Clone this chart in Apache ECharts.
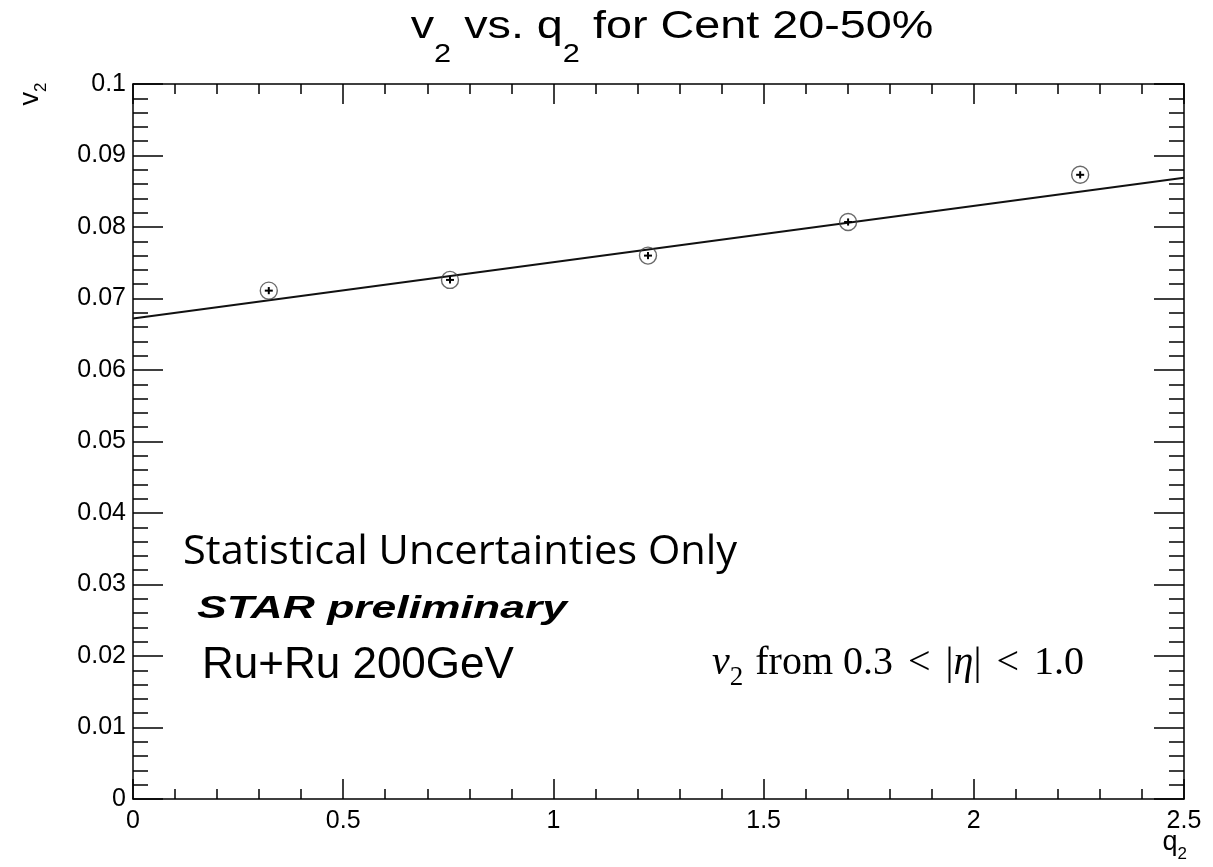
<!DOCTYPE html>
<html><head><meta charset="utf-8">
<script src="https://cdn.jsdelivr.net/npm/echarts@6/dist/echarts.min.js"></script>
<style>html,body{margin:0;padding:0;background:#fff}#c{width:1213px;height:867px}</style>
</head><body><div id="c"></div>
<script>
// Data
const q2 = [0.323, 0.754, 1.225, 1.701, 2.253];
const v2 = [0.0711, 0.0726, 0.0760, 0.0807, 0.0873];
const v2Err = [0.0005, 0.0005, 0.0005, 0.0005, 0.0005];
const fitQ2 = [0, 2.5];
const fitV2 = [0.0672, 0.0869];

const HELV = '"Liberation Sans", Arial, Helvetica, sans-serif';
const SERIF = '"Liberation Serif", "DejaVu Serif", serif';
const chart = echarts.init(document.getElementById('c'), null, {renderer: 'canvas'});

const pts = q2.map((x, i) => [x, v2[i], v2Err[i]]);
const fit = fitQ2.map((x, i) => [x, fitV2[i]]);

function axisCommon(major, minor) {
  return {
    axisLine: {show: true, onZero: false, lineStyle: {color: '#000', width: 1.5}},
    axisTick: {show: true, inside: true, length: major, lineStyle: {color: '#000', width: 1.5}},
    minorTick: {show: true, splitNumber: 5, length: minor, lineStyle: {color: '#000', width: 1.5}},
    splitLine: {show: false}
  };
}

const option = {
  backgroundColor: '#fff',
  animation: false,
  grid: {left: 133, top: 84, right: 29, bottom: 68, containLabel: false},
  xAxis: [
    Object.assign({type: 'value', min: 0, max: 2.5, interval: 0.5, position: 'bottom',
      axisLabel: {color: '#000', fontFamily: HELV, fontSize: 25, margin: 10,
        formatter: v => String(+v.toFixed(1))}}, axisCommon(20, 10)),
    Object.assign({type: 'value', min: 0, max: 2.5, interval: 0.5, position: 'top',
      axisLabel: {show: false}}, axisCommon(20, 10))
  ],
  yAxis: [
    Object.assign({type: 'value', min: 0, max: 0.1, interval: 0.01, position: 'left',
      axisLabel: {color: '#000', fontFamily: HELV, fontSize: 25, margin: 7,
        formatter: v => String(+v.toFixed(2))}}, axisCommon(30, 15)),
    Object.assign({type: 'value', min: 0, max: 0.1, interval: 0.01, position: 'right',
      axisLabel: {show: false}}, axisCommon(30, 15))
  ],
  series: [
    {
      type: 'line', data: fit, xAxisIndex: 0, yAxisIndex: 0,
      symbol: 'none', lineStyle: {color: '#111', width: 2}, z: 2
    },
    {
      type: 'scatter', data: pts, xAxisIndex: 0, yAxisIndex: 0,
      symbol: 'circle', symbolSize: 17,
      itemStyle: {color: 'rgba(255,255,255,0)', borderColor: '#444', borderWidth: 1.4}, z: 3
    },
    {
      type: 'custom', data: pts, xAxisIndex: 0, yAxisIndex: 0, z: 4,
      renderItem: function (params, api) {
        const x = api.value(0), y = api.value(1), e = api.value(2);
        const c = api.coord([x, y]);
        const hi = api.coord([x, y + e]);
        const lo = api.coord([x, y - e]);
        const hw = 4;
        return {
          type: 'group',
          children: [
            {type: 'line', shape: {x1: c[0], y1: hi[1], x2: c[0], y2: lo[1]}, style: {stroke: '#000', lineWidth: 2}},
            {type: 'line', shape: {x1: c[0] - hw, y1: c[1], x2: c[0] + hw, y2: c[1]}, style: {stroke: '#000', lineWidth: 2}}
          ]
        };
      }
    }
  ],
  graphic: [
    {
      type: 'text', x: 672, y: 9, scaleX: 1.23,
      style: {
        text: '{a|v}{s|2}{a| vs. q}{s|2}{a| for Cent 20-50%}',
        align: 'center', verticalAlign: 'top',
        rich: {
          a: {fontSize: 38, fontFamily: HELV, fill: '#000', lineHeight: 42, verticalAlign: 'top'},
          s: {fontSize: 25, fontFamily: HELV, fill: '#000', lineHeight: 26, padding: [34, 0, 0, 0], verticalAlign: 'top'}
        }
      }
    },
    {
      type: 'text', x: 31, y: 94, rotation: Math.PI / 2,
      style: {
        text: '{a|v}{s|2}', align: 'center', verticalAlign: 'middle',
        rich: {
          a: {fontSize: 27, fontFamily: HELV, fill: '#000', lineHeight: 28, verticalAlign: 'top'},
          s: {fontSize: 17, fontFamily: HELV, fill: '#000', lineHeight: 17, padding: [16, 0, 0, 0], verticalAlign: 'top'}
        }
      }
    },
    {
      type: 'text', x: 1187, y: 829,
      style: {
        text: '{a|q}{s|2}', align: 'right', verticalAlign: 'top',
        rich: {
          a: {fontSize: 27, fontFamily: HELV, fill: '#000', lineHeight: 28, verticalAlign: 'top'},
          s: {fontSize: 17, fontFamily: HELV, fill: '#000', lineHeight: 17, padding: [17, 0, 0, 0], verticalAlign: 'top'}
        }
      }
    },
    {
      type: 'text', x: 183, y: 553, scaleX: 1.04,
      style: {text: 'Statistical Uncertainties Only', fontSize: 40, fontFamily: '"Open Sans", "Noto Sans", sans-serif',
        fill: '#000', verticalAlign: 'middle', align: 'left'}
    },
    {
      type: 'text', x: 197, y: 609, scaleX: 1.39,
      style: {text: 'STAR preliminary', fontSize: 32, fontStyle: 'italic', fontWeight: 'bold', fontFamily: HELV,
        fill: '#000', verticalAlign: 'middle', align: 'left'}
    },
    {
      type: 'text', x: 202, y: 666,
      style: {text: 'Ru+Ru 200GeV', fontSize: 44, fontFamily: HELV,
        fill: '#000', verticalAlign: 'middle', align: 'left'}
    },
    {
      type: 'text', x: 712, y: 666,
      style: {
        text: '{i|v}{s|2}{r| from 0.3}{o|<}{r||}{i|η}{r||}{o|<}{r|1.0}',
        verticalAlign: 'middle', align: 'left',
        rich: {
          i: {fontSize: 40, fontStyle: 'italic', fontFamily: SERIF, fill: '#000', lineHeight: 46, verticalAlign: 'top'},
          r: {fontSize: 40, fontFamily: SERIF, fill: '#000', lineHeight: 46, verticalAlign: 'top'},
          o: {fontSize: 40, fontFamily: SERIF, fill: '#000', lineHeight: 46, verticalAlign: 'top', padding: [0, 15, 0, 15]},
          s: {fontSize: 27, fontFamily: SERIF, fill: '#000', lineHeight: 27, padding: [21, 2, 0, 0], verticalAlign: 'top'}
        }
      }
    }
  ]
};
chart.setOption(option);
</script>
</body></html>
